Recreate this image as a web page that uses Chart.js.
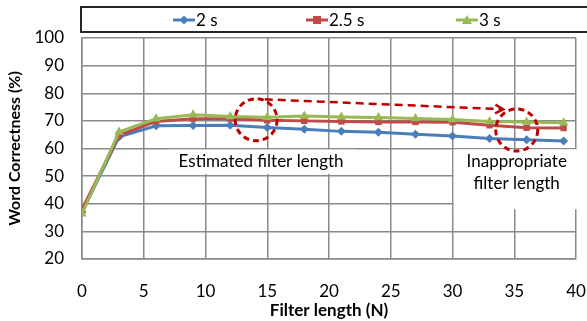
<!DOCTYPE html>
<html>
<head>
<meta charset="utf-8">
<script src="https://cdn.jsdelivr.net/npm/chart.js@4"></script>
<style>
  html, body { margin: 0; padding: 0; background: #ffffff; }
  #wrap { width: 587px; height: 321px; }
</style>
</head>
<body>
<div id="wrap"><canvas id="c" width="587" height="321"></canvas></div>
<script>
// ---- data ----
const filterLengths = [0, 3, 6, 9, 12, 15, 18, 21, 24, 27, 30, 33, 36, 39];
const series2s  = [37.0, 64.2, 68.2, 68.3, 68.4, 67.6, 67.0, 66.2, 65.9, 65.2, 64.5, 63.6, 63.2, 62.7];
const series25s = [38.0, 64.8, 69.8, 70.8, 70.8, 70.2, 70.0, 69.8, 69.6, 69.6, 69.5, 68.4, 67.5, 67.4];
const series3s  = [36.4, 66.0, 70.8, 72.2, 71.6, 71.3, 71.8, 71.4, 71.2, 70.9, 70.5, 69.8, 69.6, 69.3];
const seriesLabels = ['2 s', '2.5 s', '3 s'];
const xTicks = [0, 5, 10, 15, 20, 25, 30, 35, 40];
const yTicks = [20, 30, 40, 50, 60, 70, 80, 90, 100];
const xTitle = 'Filter length (N)';
const yTitle = 'Word Correctness (%)';
const note1 = ['Estimated filter length'];
const note2 = ['Inappropriate', 'filter length'];

const FONT = 'Lato, "Open Sans", sans-serif';
const colors = ['#4A7EBB', '#BE4B48', '#98B954'];
const markers = ['rectRot', 'rect', 'triangle'];
const markerSizes = [4.5, 4.5, 5.5];

function pts(ys) { return filterLengths.map((x, i) => ({x: x, y: ys[i]})); }
const allSeries = [series2s, series25s, series3s];

const datasets = allSeries.map((s, i) => ({
  label: seriesLabels[i],
  data: pts(s),
  borderColor: colors[i],
  backgroundColor: colors[i],
  borderWidth: 3,
  pointStyle: markers[i],
  pointRadius: markerSizes[i],
  pointBorderWidth: 0,
  pointBackgroundColor: colors[i],
  tension: 0,
  order: 3 - i
}));

// white label boxes behind the series, drawn over the grid
const boxesPlugin = {
  id: 'boxes',
  beforeDatasetsDraw(chart) {
    const {ctx, scales: {x, y}} = chart;
    ctx.save();
    ctx.fillStyle = '#ffffff';
    let x0 = x.getPixelForValue(7.0), x1 = x.getPixelForValue(22.2);
    let y0 = y.getPixelForValue(59.6), y1 = y.getPixelForValue(50.8);
    ctx.fillRect(x0, y0, x1 - x0, y1 - y0);
    x0 = x.getPixelForValue(30.1); x1 = chart.width;
    y0 = y.getPixelForValue(59.7); y1 = y.getPixelForValue(38.0);
    ctx.fillRect(x0, y0, x1 - x0, y1 - y0);
    ctx.restore();
  },
  afterDatasetsDraw(chart) {
    const {ctx, scales: {x, y}} = chart;
    ctx.save();
    ctx.fillStyle = '#000000';
    ctx.font = '17px ' + FONT;
    ctx.textAlign = 'center';
    ctx.textBaseline = 'middle';
    ctx.fillText(note1[0], x.getPixelForValue(14.5), y.getPixelForValue(55.4));
    ctx.fillText(note2[0], x.getPixelForValue(35.2), y.getPixelForValue(55.2));
    ctx.fillText(note2[1], x.getPixelForValue(35.2), y.getPixelForValue(47.2));

    ctx.strokeStyle = '#C00000';
    ctx.lineWidth = 3;
    ctx.setLineDash([6, 4]);
    ctx.beginPath();
    ctx.arc(x.getPixelForValue(14.1), y.getPixelForValue(70.4), 21, 0, Math.PI * 2);
    ctx.stroke();
    ctx.beginPath();
    ctx.arc(x.getPixelForValue(35.2), y.getPixelForValue(66.7), 21, 0, Math.PI * 2);
    ctx.stroke();

    const ax0 = x.getPixelForValue(14.8), ay0 = y.getPixelForValue(77.8);
    const ax1 = x.getPixelForValue(34.1), ay1 = y.getPixelForValue(74.2);
    ctx.lineWidth = 2.5;
    ctx.setLineDash([8, 5]);
    ctx.beginPath();
    ctx.moveTo(ax0, ay0);
    ctx.lineTo(ax1, ay1);
    ctx.stroke();
    ctx.setLineDash([]);
    const ang = Math.atan2(ay1 - ay0, ax1 - ax0);
    ctx.beginPath();
    ctx.moveTo(ax1 - 9 * Math.cos(ang - 0.5), ay1 - 9 * Math.sin(ang - 0.5));
    ctx.lineTo(ax1, ay1);
    ctx.lineTo(ax1 - 9 * Math.cos(ang + 0.5), ay1 - 9 * Math.sin(ang + 0.5));
    ctx.stroke();
    ctx.restore();
  }
};

// framed legend at the top
const legendPlugin = {
  id: 'framedLegend',
  afterDraw(chart) {
    const {ctx} = chart;
    const left = chart.scales.x.left - 1;
    ctx.save();
    ctx.strokeStyle = '#000000';
    ctx.lineWidth = 1.7;
    ctx.strokeRect(left, 7, chart.width - left + 5, 25);
    const centers = [184, 317, 467];
    ctx.font = '17px ' + FONT;
    ctx.textBaseline = 'middle';
    ctx.textAlign = 'left';
    chart.data.datasets.forEach((ds, i) => {
      const cx = centers[i], cy = 20;
      ctx.strokeStyle = ds.borderColor;
      ctx.lineWidth = 3;
      ctx.beginPath();
      ctx.moveTo(cx - 11, cy);
      ctx.lineTo(cx + 11, cy);
      ctx.stroke();
      ctx.fillStyle = ds.borderColor;
      ctx.beginPath();
      if (i === 0) {
        ctx.moveTo(cx, cy - 4.5); ctx.lineTo(cx + 4.5, cy); ctx.lineTo(cx, cy + 4.5); ctx.lineTo(cx - 4.5, cy);
      } else if (i === 1) {
        ctx.rect(cx - 4, cy - 4, 8, 8);
      } else {
        ctx.moveTo(cx, cy - 5); ctx.lineTo(cx + 5, cy + 4); ctx.lineTo(cx - 5, cy + 4);
      }
      ctx.closePath();
      ctx.fill();
      ctx.fillStyle = '#000000';
      ctx.fillText(ds.label, cx + 12, cy + 1);
    });
    ctx.restore();
  }
};

new Chart(document.getElementById('c'), {
  type: 'line',
  data: { datasets: datasets },
  options: {
    responsive: false,
    animation: false,
    events: [],
    layout: { padding: { left: 0, top: 38, right: 11, bottom: 0 } },
    plugins: { legend: { display: false }, tooltip: { enabled: false } },
    scales: {
      x: {
        type: 'linear',
        min: 0, max: 40,
        afterBuildTicks(scale) { scale.ticks = xTicks.map(v => ({value: v})); },
        afterFit(scale) { scale.height = 62; scale.paddingLeft = 0; scale.paddingRight = 0; },
        grid: { color: '#8a8a8a', lineWidth: 1.5, drawTicks: false },
        border: { color: '#8a8a8a', width: 1.5 },
        ticks: { color: '#000', font: { family: FONT, size: 17 }, padding: 22, maxRotation: 0 },
        title: { display: true, text: xTitle, color: '#000', font: { family: FONT, size: 17, weight: 'bold' }, padding: 0 }
      },
      y: {
        type: 'linear',
        min: 20, max: 100,
        afterBuildTicks(scale) { scale.ticks = yTicks.map(v => ({value: v})); },
        afterFit(scale) { scale.width = 82; scale.paddingTop = 0; scale.paddingBottom = 0; },
        grid: { color: '#8a8a8a', lineWidth: 1.5, drawTicks: false },
        border: { color: '#8a8a8a', width: 1.5 },
        ticks: { color: '#000', font: { family: FONT, size: 17 }, padding: 18 },
        title: { display: true, text: yTitle, color: '#000', font: { family: FONT, size: 16, weight: 'bold' }, padding: 5 }
      }
    }
  },
  plugins: [boxesPlugin, legendPlugin]
});
</script>
</body>
</html>
